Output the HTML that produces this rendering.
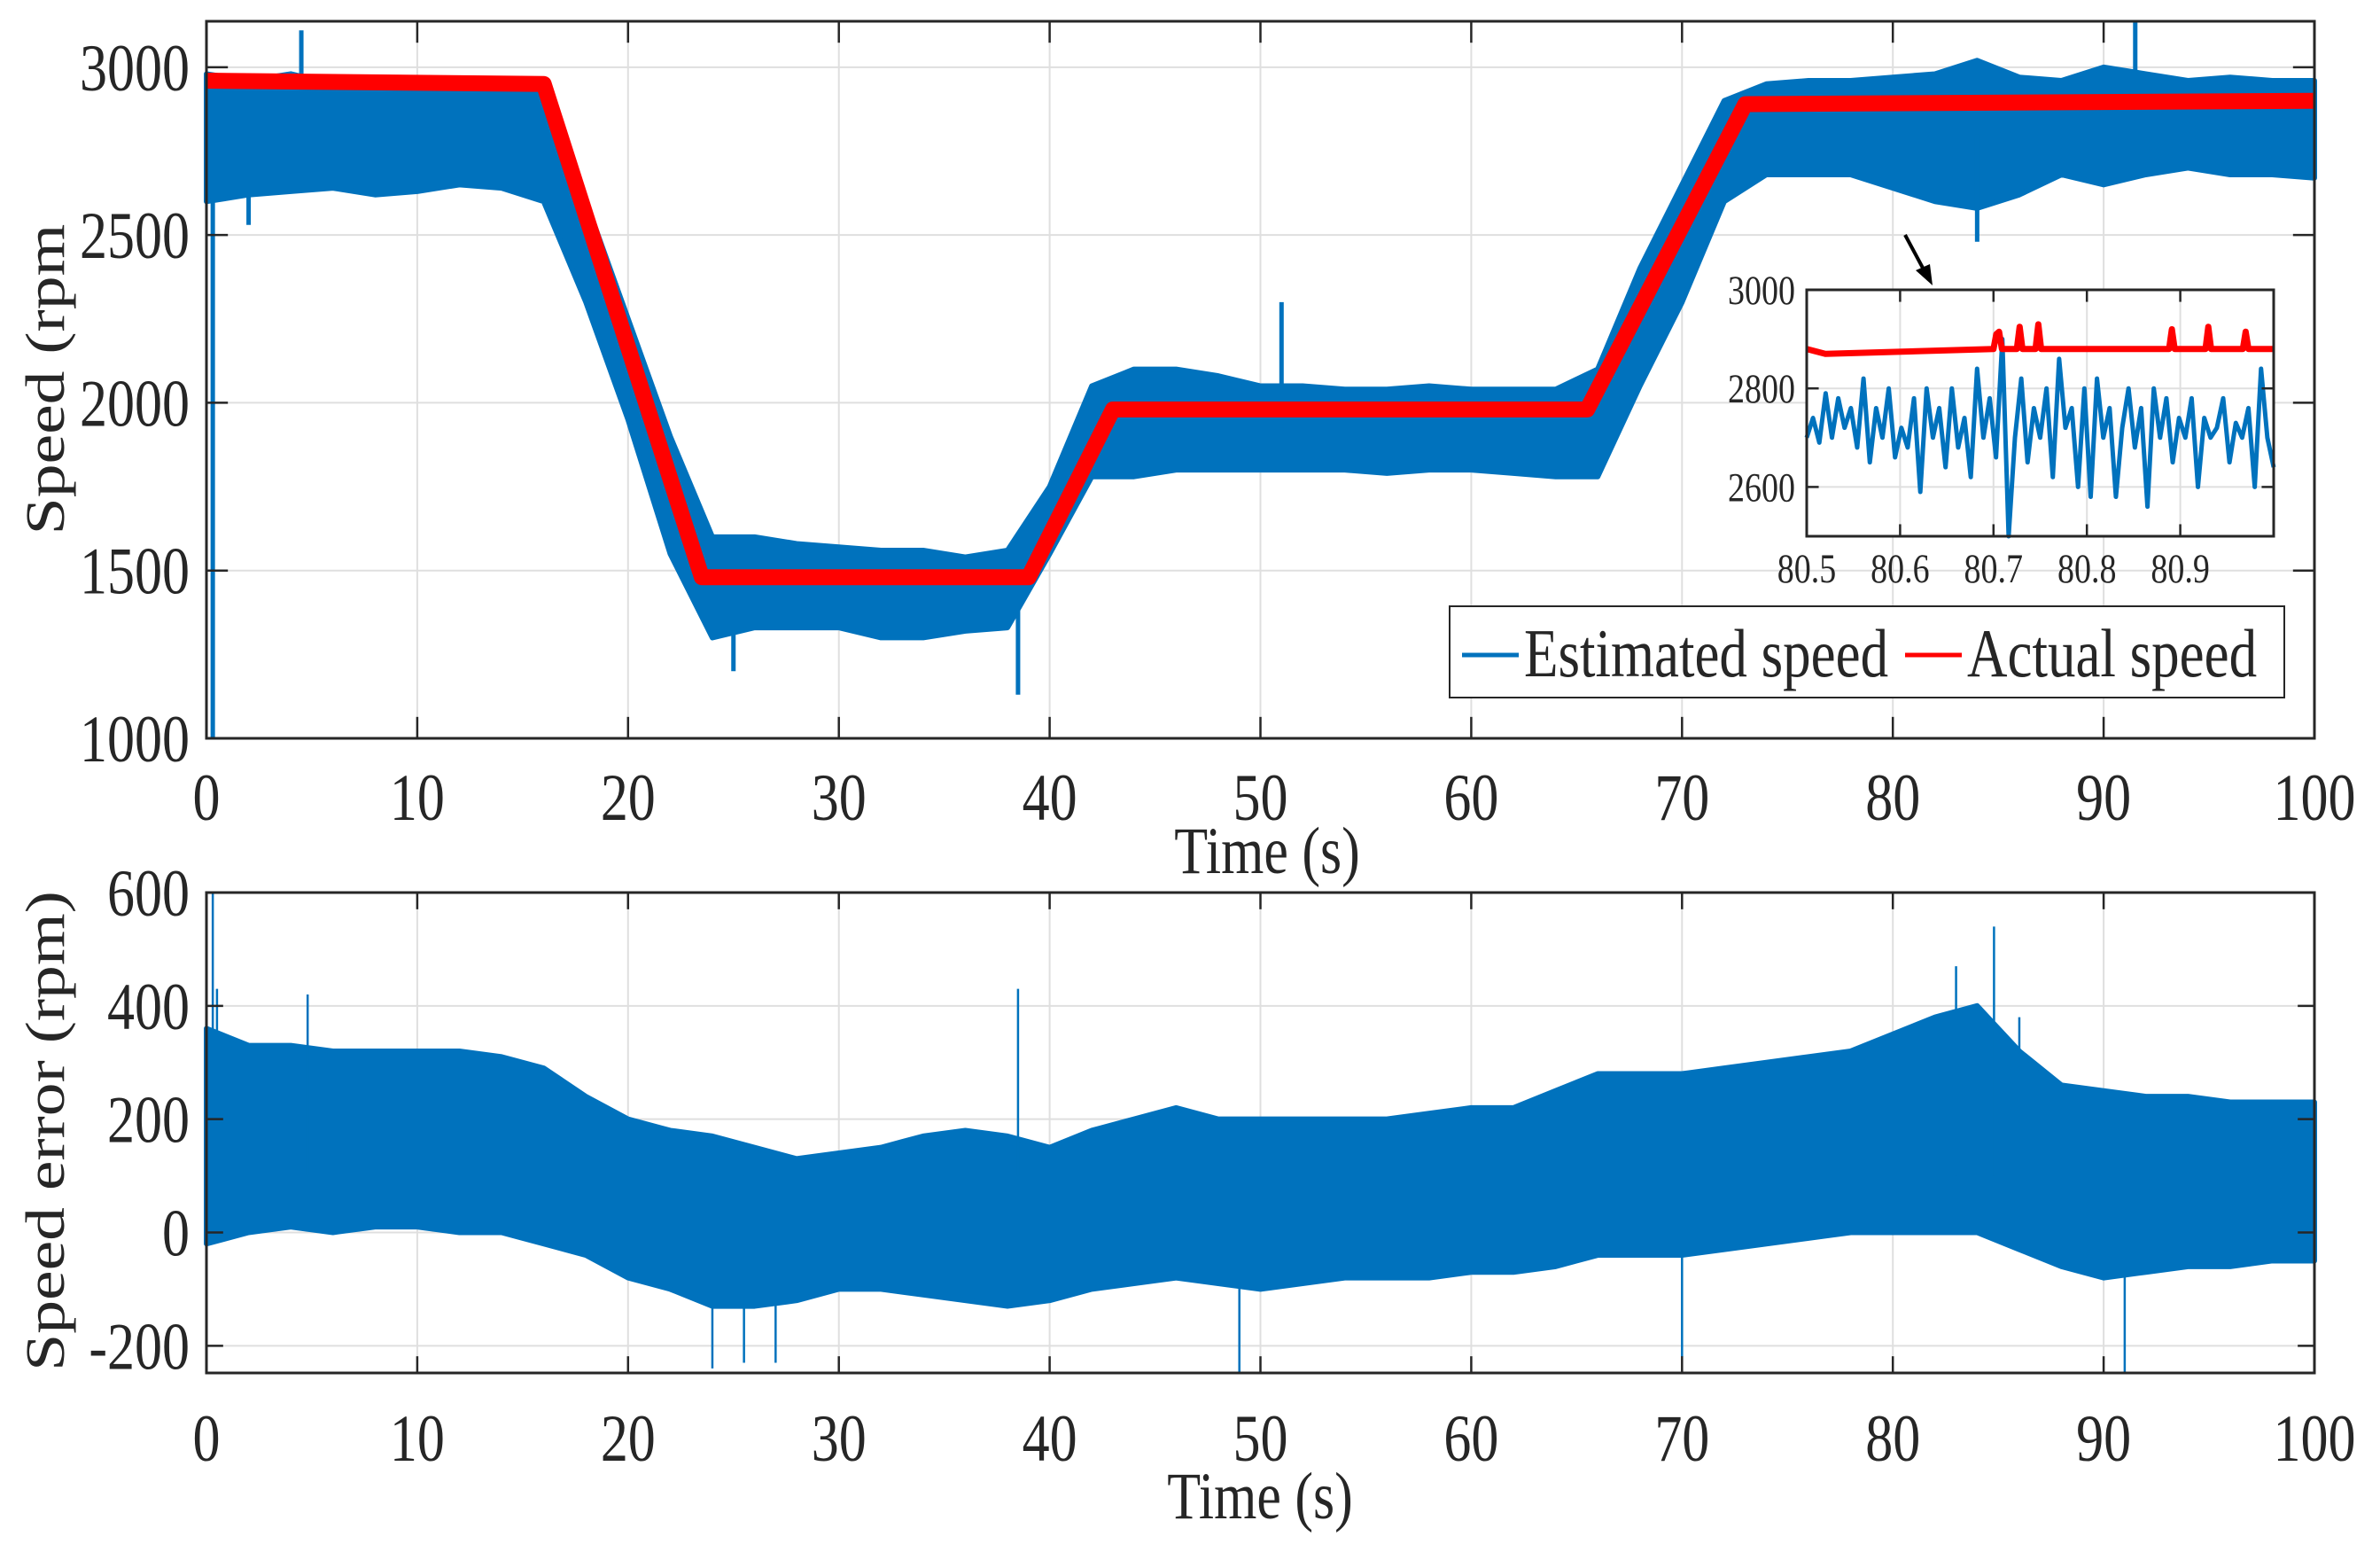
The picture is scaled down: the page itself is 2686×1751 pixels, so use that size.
<!DOCTYPE html>
<html><head><meta charset="utf-8"><style>
html,body{margin:0;padding:0;background:#fff}
svg{display:block}
text{font-family:"Liberation Serif",serif;fill:#262626}
</style></head><body>
<svg id="fig" xmlns="http://www.w3.org/2000/svg" width="2686" height="1751" viewBox="0 0 2686 1751">
<rect width="2686" height="1751" fill="#fff"/>
<g id="top"></g>
<g id="bot"></g>
<g id="inset"></g>
<text font-size="62" text-anchor="middle" transform="translate(72,428) scale(1,1.22) rotate(-90)">Speed (rpm</text>
<text font-size="62" text-anchor="middle" transform="translate(1430,985) scale(1,1.22)">Time (s)</text>
<text font-size="62" text-anchor="middle" transform="translate(72,1276) scale(1,1.22) rotate(-90)">Speed error (rpm)</text>
<text font-size="62" text-anchor="middle" transform="translate(1422,1713) scale(1,1.22)">Time (s)</text>
<g>
<rect x="1636" y="684" width="942" height="103" fill="#fff" stroke="#262626" stroke-width="2"/>
<line x1="1650" y1="739" x2="1714" y2="739" stroke="#0072BD" stroke-width="5"/>
<text font-size="63" transform="translate(1720,763) scale(1,1.22)">Estimated speed</text>
<line x1="2150" y1="739" x2="2214" y2="739" stroke="#FF0000" stroke-width="5"/>
<text font-size="63" transform="translate(2220,763) scale(1,1.22)">Actual speed</text>
</g>
<g>
<line x1="2150" y1="265" x2="2172" y2="306" stroke="#000" stroke-width="4"/>
<polygon points="2181,322 2162,305 2178,298" fill="#000"/>
</g>
</svg>
<script>
// ---- data ----
const bandT = [0,2,4,6,8,10,12,14,16,18,20,22,24,26,28,30,32,34,36,38,40,42,44,46,48,50,52,54,56,58,60,62,64,66,68,70,72,74,76,78,80,82,84,86,88,90,92,94,96,98,100];
const estLo = [2600,2620,2630,2640,2620,2630,2650,2640,2600,2300,1950,1550,1300,1330,1330,1330,1300,1300,1320,1330,1550,1780,1780,1800,1800,1800,1800,1800,1790,1800,1800,1790,1780,1780,2050,2300,2600,2680,2680,2680,2640,2600,2580,2620,2680,2650,2680,2700,2680,2680,2670];
const estHi = [2980,2960,2980,2950,2950,2950,2960,2960,2940,2600,2250,1900,1600,1600,1580,1570,1560,1560,1540,1560,1750,2050,2100,2100,2080,2050,2050,2040,2040,2050,2040,2040,2040,2100,2400,2650,2900,2950,2960,2960,2970,2980,3020,2970,2960,3000,2980,2960,2970,2960,2960];
const estSpikeT = [0.3,4.5,25,38.5,51,91.5,84,2];
const estSpikeV = [1000,3110,1200,1130,2300,3140,2480,2530];
const actT = [0,16,23.5,39,43,65.5,73,100];
const actV = [2960,2950,1480,1480,1980,1980,2890,2900];
const errLo = [-20,0,10,0,10,10,0,0,-20,-40,-80,-100,-130,-130,-120,-100,-100,-110,-120,-130,-120,-100,-90,-80,-90,-100,-90,-80,-80,-80,-70,-70,-60,-40,-40,-40,-30,-20,-10,0,0,0,0,-30,-60,-80,-70,-60,-60,-50,-50];
const errHi = [360,330,330,320,320,320,320,310,290,240,200,180,170,150,130,140,150,170,180,170,150,180,200,220,200,200,200,200,200,210,220,220,250,280,280,280,290,300,310,320,350,380,400,320,260,250,240,240,230,230,230];
const errSpikeT = [0.3,0.5,4.8,24,25.5,38.5,49,84.8,86,91,83,70,27];
const errSpikeV = [600,430,420,-240,-230,430,-250,540,380,-250,470,-220,-230];
const xTicks = [0,10,20,30,40,50,60,70,80,90,100];
const topYTicks = [1000,1500,2000,2500,3000];
const botYTicks = [-200,0,200,400,600];
const inXTicks = [80.5,80.6,80.7,80.8,80.9];
const inYTicks = [2600,2800,3000];
const inBlue = [2700,2740,2690,2790,2700,2780,2720,2760,2680,2820,2650,2760,2700,2800,2660,2720,2680,2780,2590,2800,2700,2760,2640,2800,2680,2740,2620,2840,2700,2780,2660,2900,2500,2700,2820,2650,2760,2700,2800,2620,2860,2720,2760,2600,2800,2580,2820,2700,2760,2580,2720,2800,2680,2760,2560,2800,2700,2780,2650,2740,2700,2780,2600,2740,2700,2720,2780,2650,2730,2700,2760,2600,2840,2700,2640];
const inRedT = [80.5,80.52,80.7,80.703,80.706,80.709,80.725,80.728,80.731,80.745,80.748,80.751,80.888,80.891,80.894,80.927,80.93,80.933,80.967,80.97,80.973,81.0];
const inRedV = [2880,2870,2880,2910,2915,2880,2880,2925,2880,2880,2930,2880,2880,2920,2880,2880,2925,2880,2880,2915,2880,2880];

const NS='http://www.w3.org/2000/svg';
function mk(tag,parent,attrs){const e=document.createElementNS(NS,tag);for(const k in attrs)e.setAttribute(k,attrs[k]);parent.appendChild(e);return e;}

function axes(g,L,R,T,B,xd,yd,xt,yt,fs,sc,xLabY,yLabX,yOff,xfmt,prefix){
  const sx=v=>L+(v-xd[0])/(xd[1]-xd[0])*(R-L);
  const sy=v=>B-(v-yd[0])/(yd[1]-yd[0])*(B-T);
  mk('rect',g,{x:L,y:T,width:R-L,height:B-T,fill:'#fff'});
  xt.forEach(v=>{const l=mk('line',g,{x1:sx(v),x2:sx(v),y1:T,y2:B,stroke:'#dfdfdf','stroke-width':2});
    
    });
  yt.forEach(v=>{const l=mk('line',g,{x1:L,x2:R,y1:sy(v),y2:sy(v),stroke:'#dfdfdf','stroke-width':2});
    
    });
  return {sx,sy,finish(){
    const tl=(B-T)*0.02+8;
    xt.forEach(v=>{mk('line',g,{x1:sx(v),x2:sx(v),y1:B,y2:B-tl,stroke:'#262626','stroke-width':2.5});mk('line',g,{x1:sx(v),x2:sx(v),y1:T,y2:T+tl,stroke:'#262626','stroke-width':2.5});
      const t=mk('text',g,{'font-size':fs,'text-anchor':'middle',transform:`translate(${sx(v)},${xLabY}) scale(${sc})`});t.textContent=xfmt(v);
      
      });
    yt.forEach(v=>{mk('line',g,{x1:L,x2:L+tl,y1:sy(v),y2:sy(v),stroke:'#262626','stroke-width':2.5});mk('line',g,{x1:R,x2:R-tl,y1:sy(v),y2:sy(v),stroke:'#262626','stroke-width':2.5});
      const t=mk('text',g,{'font-size':fs,'text-anchor':'end',transform:`translate(${yLabX},${sy(v)+yOff}) scale(${sc})`});t.textContent=String(v);
      
      });
    const f=mk('rect',g,{x:L,y:T,width:R-L,height:B-T,fill:'none',stroke:'#262626','stroke-width':3});
    
    
  }};
}
function band(g,sx,sy,t,lo,hi,color,name){
  let pts=t.map((v,i)=>sx(v)+','+sy(hi[i]));
  pts=pts.concat(t.map((v,i)=>sx(v)+','+sy(lo[i])).reverse());
  const p=mk('polygon',g,{points:pts.join(' '),fill:color,stroke:color,'stroke-width':6,'stroke-linejoin':'round'});
  
  
}
// top chart
const gt=document.getElementById('top');
const A=axes(gt,233,2612,24,833,[0,100],[1000,3137],xTicks,topYTicks,62,'1,1.22',925,214,26,v=>String(v),'top');
band(gt,A.sx,A.sy,bandT,estLo,estHi,'#0072BD','estimated-speed-band');
estSpikeT.forEach((t,i)=>{const base=estLo[Math.round(t/2)]*0.5+estHi[Math.round(t/2)]*0.5;
  const l=mk('line',gt,{x1:A.sx(t),x2:A.sx(t),y1:A.sy(base),y2:A.sy(estSpikeV[i]),stroke:'#0072BD','stroke-width':5});
  
  });
const rl=mk('polyline',gt,{points:actT.map((t,i)=>A.sx(t)+','+A.sy(actV[i])).join(' '),fill:'none',stroke:'#FF0000','stroke-width':18,'stroke-linejoin':'round'});


A.finish();
// bottom chart
const gb=document.getElementById('bot');
const Bx=axes(gb,233,2612,1007,1549,[0,100],[-248,600],xTicks,botYTicks,62,'1,1.22',1648,214,26,v=>String(v),'bottom');
band(gb,Bx.sx,Bx.sy,bandT,errLo,errHi,'#0072BD','speed-error-band');
errSpikeT.forEach((t,i)=>{const l=mk('line',gb,{x1:Bx.sx(t),x2:Bx.sx(t),y1:Bx.sy(100),y2:Bx.sy(errSpikeV[i]),stroke:'#0072BD','stroke-width':2.5});
  
  });
Bx.finish();
// inset
const gi=document.getElementById('inset');
const I=axes(gi,2039,2566,327,605,[80.5,81.0],[2500,3000],inXTicks,inYTicks,38,'1,1.22',657,2026,16,v=>v.toFixed(1),'inset');
const bl=mk('polyline',gi,{points:inBlue.map((v,i)=>I.sx(80.5+0.5*i/(inBlue.length-1))+','+I.sy(v)).join(' '),fill:'none',stroke:'#0072BD','stroke-width':5,'stroke-linejoin':'round'});


const ir=mk('polyline',gi,{points:inRedT.map((t,i)=>I.sx(t)+','+I.sy(inRedV[i])).join(' '),fill:'none',stroke:'#FF0000','stroke-width':7,'stroke-linejoin':'round'});


I.finish();
</script>
</body></html>
